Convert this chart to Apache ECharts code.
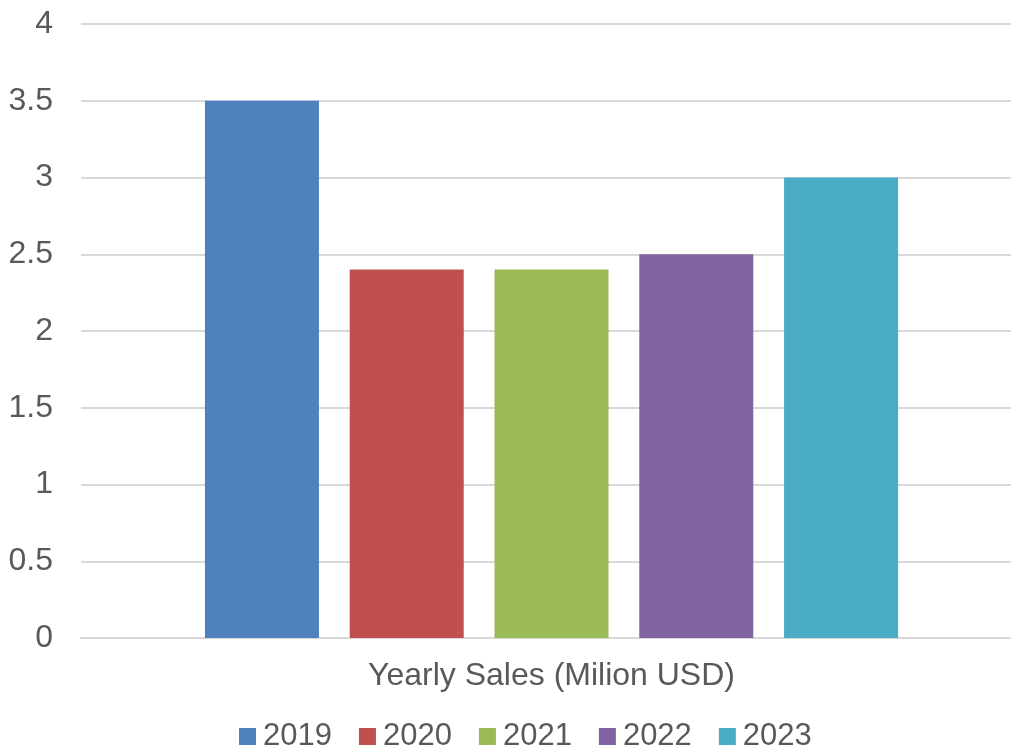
<!DOCTYPE html>
<html>
<head>
<meta charset="utf-8">
<script src="https://cdn.jsdelivr.net/npm/echarts@6/dist/echarts.min.js"></script>
<style>
  html, body { margin: 0; padding: 0; background: #fff; }
  #chart { width: 1011px; height: 752px; }
</style>
</head>
<body>
<div id="chart"></div>
<script>
const categories = ['Yearly Sales (Milion USD)'];
const years = ['2019', '2020', '2021', '2022', '2023'];
const sales = [3.5, 2.4, 2.4, 2.5, 3.0];
const colors = ['#4f81bd', '#c0504d', '#9bbb59', '#8064a2', '#4bacc6'];

const chart = echarts.init(document.getElementById('chart'));

const series = years.map((y, i) => ({
  name: y,
  type: 'bar',
  data: [sales[i]],
  barWidth: 114,
  barGap: '27%',
  itemStyle: { color: colors[i] }
}));

chart.setOption({
  animation: false,
  textStyle: { fontFamily: 'Liberation Sans, Arial, sans-serif' },
  color: colors,
  // plot area runs a little past the right edge, as in the source
  grid: {
    left: 81,
    width: 941,
    top: 24,
    bottom: 114,
    containLabel: false,
    outerBoundsMode: 'none'
  },
  legend: {
    data: years,
    left: 234,
    top: 716,
    icon: 'rect',
    itemWidth: 17,
    itemHeight: 17,
    itemGap: 27,
    textStyle: { fontSize: 31, color: '#595959', padding: [0, 0, 0, 2] }
  },
  xAxis: {
    type: 'category',
    data: categories,
    axisTick: { show: false },
    axisLine: { lineStyle: { color: '#d9d9d9', width: 2 } },
    axisLabel: { fontSize: 32, color: '#595959', margin: 22 }
  },
  yAxis: {
    type: 'value',
    min: 0,
    max: 4,
    interval: 0.5,
    axisLine: { show: false },
    axisTick: { show: false },
    axisLabel: { fontSize: 32, color: '#595959', margin: 28 },
    splitLine: { lineStyle: { color: '#d9d9d9', width: 2 } }
  },
  series: series
});
</script>
</body>
</html>
